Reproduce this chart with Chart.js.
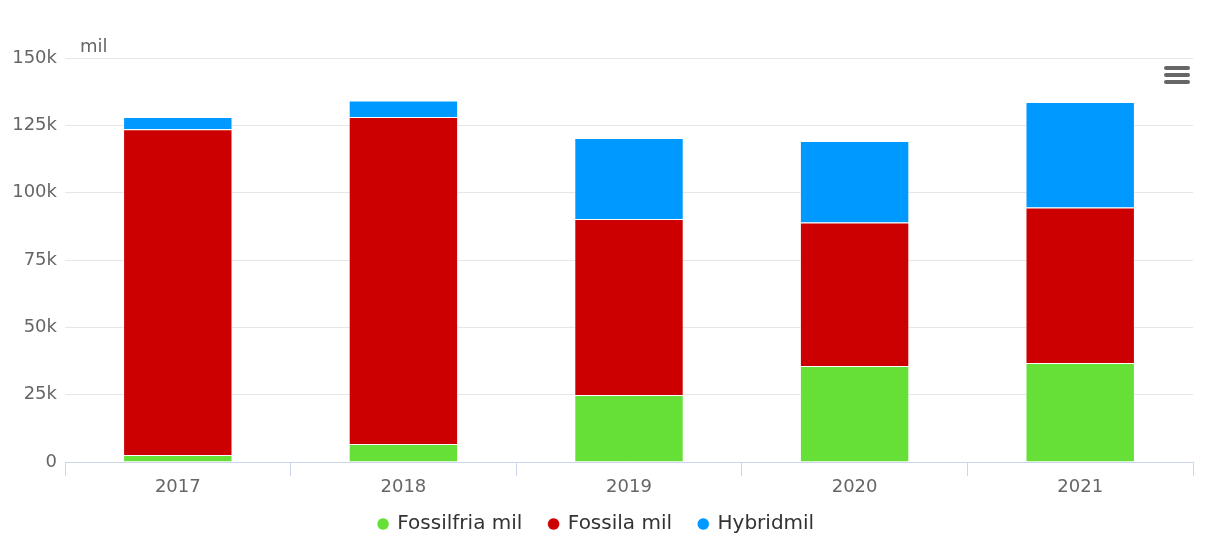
<!DOCTYPE html>
<html><head><meta charset="utf-8">
<script src="https://cdn.jsdelivr.net/npm/chart.js@4"></script>
<style>
html,body{margin:0;padding:0;background:#fff;}
#wrap{position:relative;width:1207px;height:537px;}
#menu{position:absolute;left:1164px;top:66px;width:26px;height:20px;}
#menu span{display:block;height:4px;border-radius:2px;background:#666;margin-bottom:3px;}
</style></head>
<body><div id="wrap"><canvas id="c" width="1207" height="537"></canvas>
<div id="menu"><span></span><span></span><span></span></div></div>
<script>
const categories = ['2017','2018','2019','2020','2021'];
const fossilfria = [2600, 6700, 24900, 35600, 36800];
const fossila = [120900, 121400, 65300, 53300, 57700];
const hybrid = [4600, 6100, 30100, 30300, 39200];
const yTicks = [0, 25000, 50000, 75000, 100000, 125000, 150000];
const FONT = "'DejaVu Sans', sans-serif";

const titlePlugin = {
  id: 'ytitle',
  beforeLayout(chart){
    const lg = chart.legend;
    if (lg && !lg._fixed) {
      const f = lg.fit.bind(lg);
      lg.fit = function(){ f(); this.height = 39; };
      lg._fixed = true;
    }
  },
  afterLayout(chart){
    const lg = chart.legend;
    if (lg) { lg.top -= 11; lg.height += 11; }
  },
  afterDraw(chart){
    const ctx = chart.ctx, a = chart.chartArea;
    ctx.save();
    ctx.font = "18px " + FONT;
    ctx.fillStyle = '#666';
    ctx.textBaseline = 'alphabetic';
    ctx.fillText('mil', a.left + 15, a.top - 6);
    ctx.restore();
  }
};

new Chart(document.getElementById('c'), {
  type: 'bar',
  data: {
    labels: categories,
    datasets: [
      {label:'Fossilfria mil', data: fossilfria, backgroundColor:'#66e036', borderColor:'rgba(255,255,255,0.45)', borderWidth:1},
      {label:'Fossila mil', data: fossila, backgroundColor:'#cc0000', borderColor:'rgba(255,255,255,0.45)', borderWidth:1},
      {label:'Hybridmil', data: hybrid, backgroundColor:'#0099ff', borderColor:'rgba(255,255,255,0.45)', borderWidth:1}
    ]
  },
  options: {
    responsive:false, animation:false,
    layout:{padding:{top:58, right:14, left:0, bottom:0}},
    datasets:{bar:{categoryPercentage:1, barPercentage:0.485}},
    plugins:{
      legend:{position:'bottom', labels:{usePointStyle:true, pointStyle:'circle', boxWidth:8.5, boxHeight:8.5, padding:27, color:'#333', font:{family:FONT, size:20}}},
      tooltip:{enabled:false}
    },
    scales:{
      x:{stacked:true,
         afterFit(s){ s.height = 36; },
         grid:{display:true, drawOnChartArea:false, offset:true, color:'#ccd6eb', tickLength:14, tickColor:'#ccd6eb'},
         border:{color:'#ccd6eb', width:1},
         ticks:{color:'#666', font:{family:FONT, size:18}, padding:1}},
      y:{stacked:true, min:0, max:150000,
         afterFit(s){ s.width = 65; },
         afterBuildTicks(s){ s.ticks = yTicks.map(v=>({value:v})); },
         grid:{color:'#e6e6e6', drawTicks:false},
         border:{display:false},
         ticks:{color:'#666', font:{family:FONT, size:18}, padding:8,
           callback:v=> v===0 ? '0' : (v/1000)+'k'}}
    }
  },
  plugins:[titlePlugin]
});
</script></body></html>
